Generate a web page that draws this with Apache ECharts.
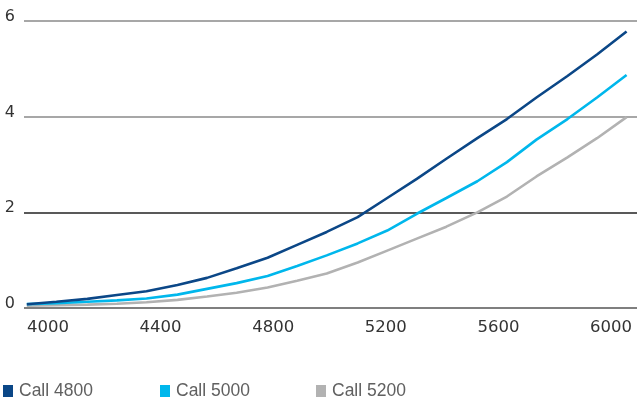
<!DOCTYPE html>
<html>
<head>
<meta charset="utf-8">
<script src="https://cdn.jsdelivr.net/npm/echarts@6/dist/echarts.min.js"></script>
<style>
  html, body { margin: 0; padding: 0; background: #fff; }
  #chart { width: 641px; height: 400px; }
</style>
</head>
<body>
<div id="chart"></div>
<script>
// Underlying index level (x) for each sample
const levels = [3925, 4030, 4140, 4245, 4350, 4460, 4565, 4670, 4780, 4885, 4990,
                5100, 5205, 5310, 5415, 5525, 5630, 5735, 5845, 5950, 6055];

// Option values per strike
const call4800 = [0.08, 0.13, 0.19, 0.27, 0.35, 0.48, 0.63, 0.83, 1.05, 1.32, 1.59,
                  1.90, 2.30, 2.70, 3.12, 3.55, 3.95, 4.40, 4.85, 5.30, 5.78];
const call5000 = [0.08, 0.10, 0.13, 0.16, 0.20, 0.28, 0.40, 0.52, 0.67, 0.88, 1.10,
                  1.35, 1.62, 1.97, 2.30, 2.65, 3.05, 3.52, 3.95, 4.40, 4.87];
const call5200 = [0.05, 0.06, 0.07, 0.09, 0.12, 0.17, 0.24, 0.32, 0.43, 0.57, 0.72,
                  0.95, 1.20, 1.45, 1.70, 2.00, 2.33, 2.75, 3.15, 3.55, 3.99];

const xTicks = [4000, 4400, 4800, 5200, 5600, 6000];
const seriesNames = ['Call 4800', 'Call 5000', 'Call 5200'];
const seriesColors = ['#0b4787', '#00b7ec', '#b2b2b2'];
const seriesValues = [call4800, call5000, call5200];

const chart = echarts.init(document.getElementById('chart'), null, { renderer: 'canvas' });

const legendLefts = [3, 160, 316];

chart.setOption({
  animation: false,
  color: seriesColors,
  grid: { left: 24, right: 4, top: 21, bottom: 92, containLabel: false },
  legend: seriesNames.map((name, i) => ({
    data: [name],
    left: legendLefts[i],
    top: 382,
    icon: 'rect',
    itemWidth: 10,
    itemHeight: 12,
    itemGap: 6,
    padding: 0,
    textStyle: { fontFamily: 'Liberation Sans, Arial, sans-serif', fontSize: 17.5, color: '#606060', padding: [0, 0, 0, 1] }
  })),
  xAxis: {
    type: 'value',
    min: 3915,
    max: 6092,
    splitLine: { show: false },
    axisLine: { show: false },
    axisTick: { show: false },
    axisLabel: {
      customValues: xTicks,
      formatter: v => String(v),
      margin: 11,
      fontFamily: 'DejaVu Sans, sans-serif',
      fontSize: 16.5,
      color: '#333'
    }
  },
  yAxis: {
    type: 'value',
    min: 0,
    max: 6,
    interval: 2,
    axisLine: { show: false },
    axisTick: { show: false },
    splitLine: {
      show: true,
      lineStyle: { color: ['#555555', '#222222', '#8a8a8a', '#8a8a8a'], width: 1.5 }
    },
    axisLabel: {
      margin: 9,
      fontFamily: 'DejaVu Sans, sans-serif',
      fontSize: 16,
      color: '#333',
      verticalAlign: 'bottom',
      lineHeight: 8
    }
  },
  series: seriesNames.map((name, i) => ({
    name: name,
    type: 'line',
    data: levels.map((x, k) => [x, seriesValues[i][k]]),
    showSymbol: false,
    symbol: 'none',
    lineStyle: { width: 2.6, color: seriesColors[i] },
    itemStyle: { color: seriesColors[i] },
    z: 3 - i
  }))
});
</script>
</body>
</html>
